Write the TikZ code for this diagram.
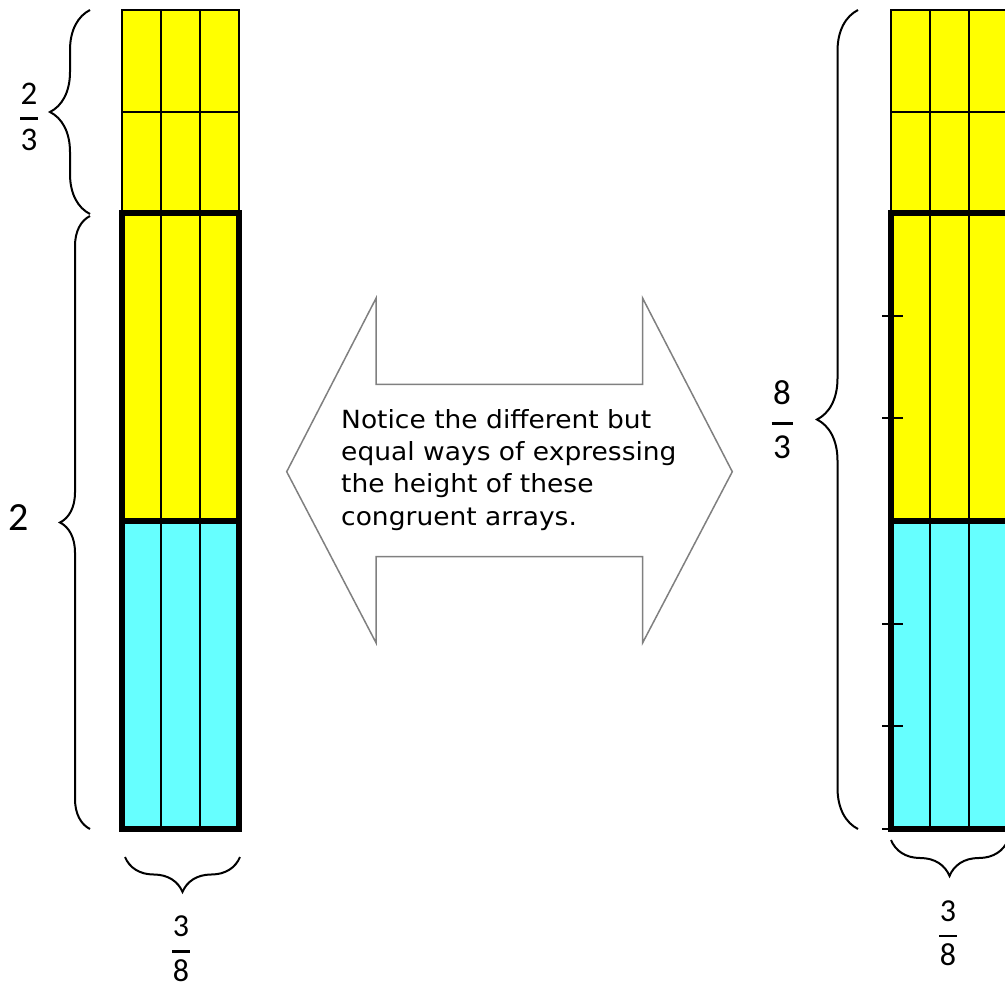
\documentclass[tikz,border=0pt]{standalone}
\usepackage{fontspec}
\setmainfont{Carlito}
\newfontfamily\notefont[FakeStretch=1.06]{DejaVu Sans}
\usetikzlibrary{decorations.pathreplacing}
\definecolor{upper}{HTML}{FFFF00}
\definecolor{lower}{HTML}{66FFFF}
\definecolor{outline}{HTML}{808080}

\begin{document}
\begin{tikzpicture}[x=1pt, y=-1pt,
    grid/.style={line width=2.2pt},
    frame/.style={line width=6pt},
    curly/.style={line width=2pt, decorate, decoration={brace, amplitude=#1}},
    digit/.style={anchor=base, inner sep=0pt, font=\fontsize{#1}{#1}\selectfont}]
  \useasboundingbox (0,0) rectangle (1005,988);
  \foreach \c/\x in {L/122, R/891} {
    \fill[upper] (\x,10) rectangle ++(117,511);
    \fill[lower] (\x,521) rectangle ++(117,308);
    \draw[grid] (\x,10) rectangle ++(117,203);
    \draw[grid] (\x,112) -- ++(117,0);
    \foreach \k in {1,2}
      \draw[grid] (\x+\k*39,10) -- ++(0,819);
    \draw[frame] (\x,213) rectangle ++(117,616);
    \draw[frame] (\x,521) -- ++(117,0);
  }
  \foreach \t in {1,2,4,5,6}
    \draw[line width=2pt] (882,213+\t*102.67) -- ++(21,0);
  \coordinate (lefttop) at (90,10);
  \coordinate (leftmid) at (90,214);
  \coordinate (leftmid2) at (90,216);
  \coordinate (leftbot) at (90,829);
  \coordinate (leftwa) at (240,857);
  \coordinate (leftwb) at (125,857);
  \coordinate (righttop) at (858,10);
  \coordinate (rightbot) at (858,829);
  \coordinate (rightwa) at (1008,840);
  \coordinate (rightwb) at (891,840);
  \draw[curly=40pt] (leftmid) -- (lefttop);
  \draw[curly=30pt] (leftbot) -- (leftmid2);
  \draw[curly=35pt] (leftwa) -- (leftwb);
  \draw[curly=41pt] (rightbot) -- (righttop);
  \draw[curly=36pt] (rightwa) -- (rightwb);
  \foreach \n/\d/\x/\ya/\yb/\yc/\s/\w [count=\i] in
    {2/3/29/104.3/118.3/150/33/18, 3/8/181/936.7/951.7/981.7/32/18,
     8/3/782/404/423.3/458.3/35/21, 3/8/948/921/936/965.7/32/18} {
    \node[digit=\s] (num\i) at (\x,\ya) {\n};
    \draw[line width=2.8pt] (\x-\w/2,\yb) -- (\x+\w/2,\yb);
    \node[digit=\s] (den\i) at (\x,\yc) {\d};
  }
  \node[digit=40] (whole) at (19,530) {2};
  \draw[outline, line width=1.5pt, fill=white]
    (286.7,471.7) -- (376,298.3) -- (376,384.3) -- (642.7,384.3) -- (642.7,298.3)
    -- (732.3,471.7) -- (642.7,642.7) -- (642.7,556.7) -- (376,556.7) -- (376,642.7) -- cycle;
  \node[anchor=base west, inner sep=0pt, align=left,
        font=\notefont\fontsize{25}{32.2}\selectfont] (note) at (341,525)
    {Notice the different but\\equal ways of expressing\\the height of these\\congruent arrays.};
\end{tikzpicture}
\end{document}
